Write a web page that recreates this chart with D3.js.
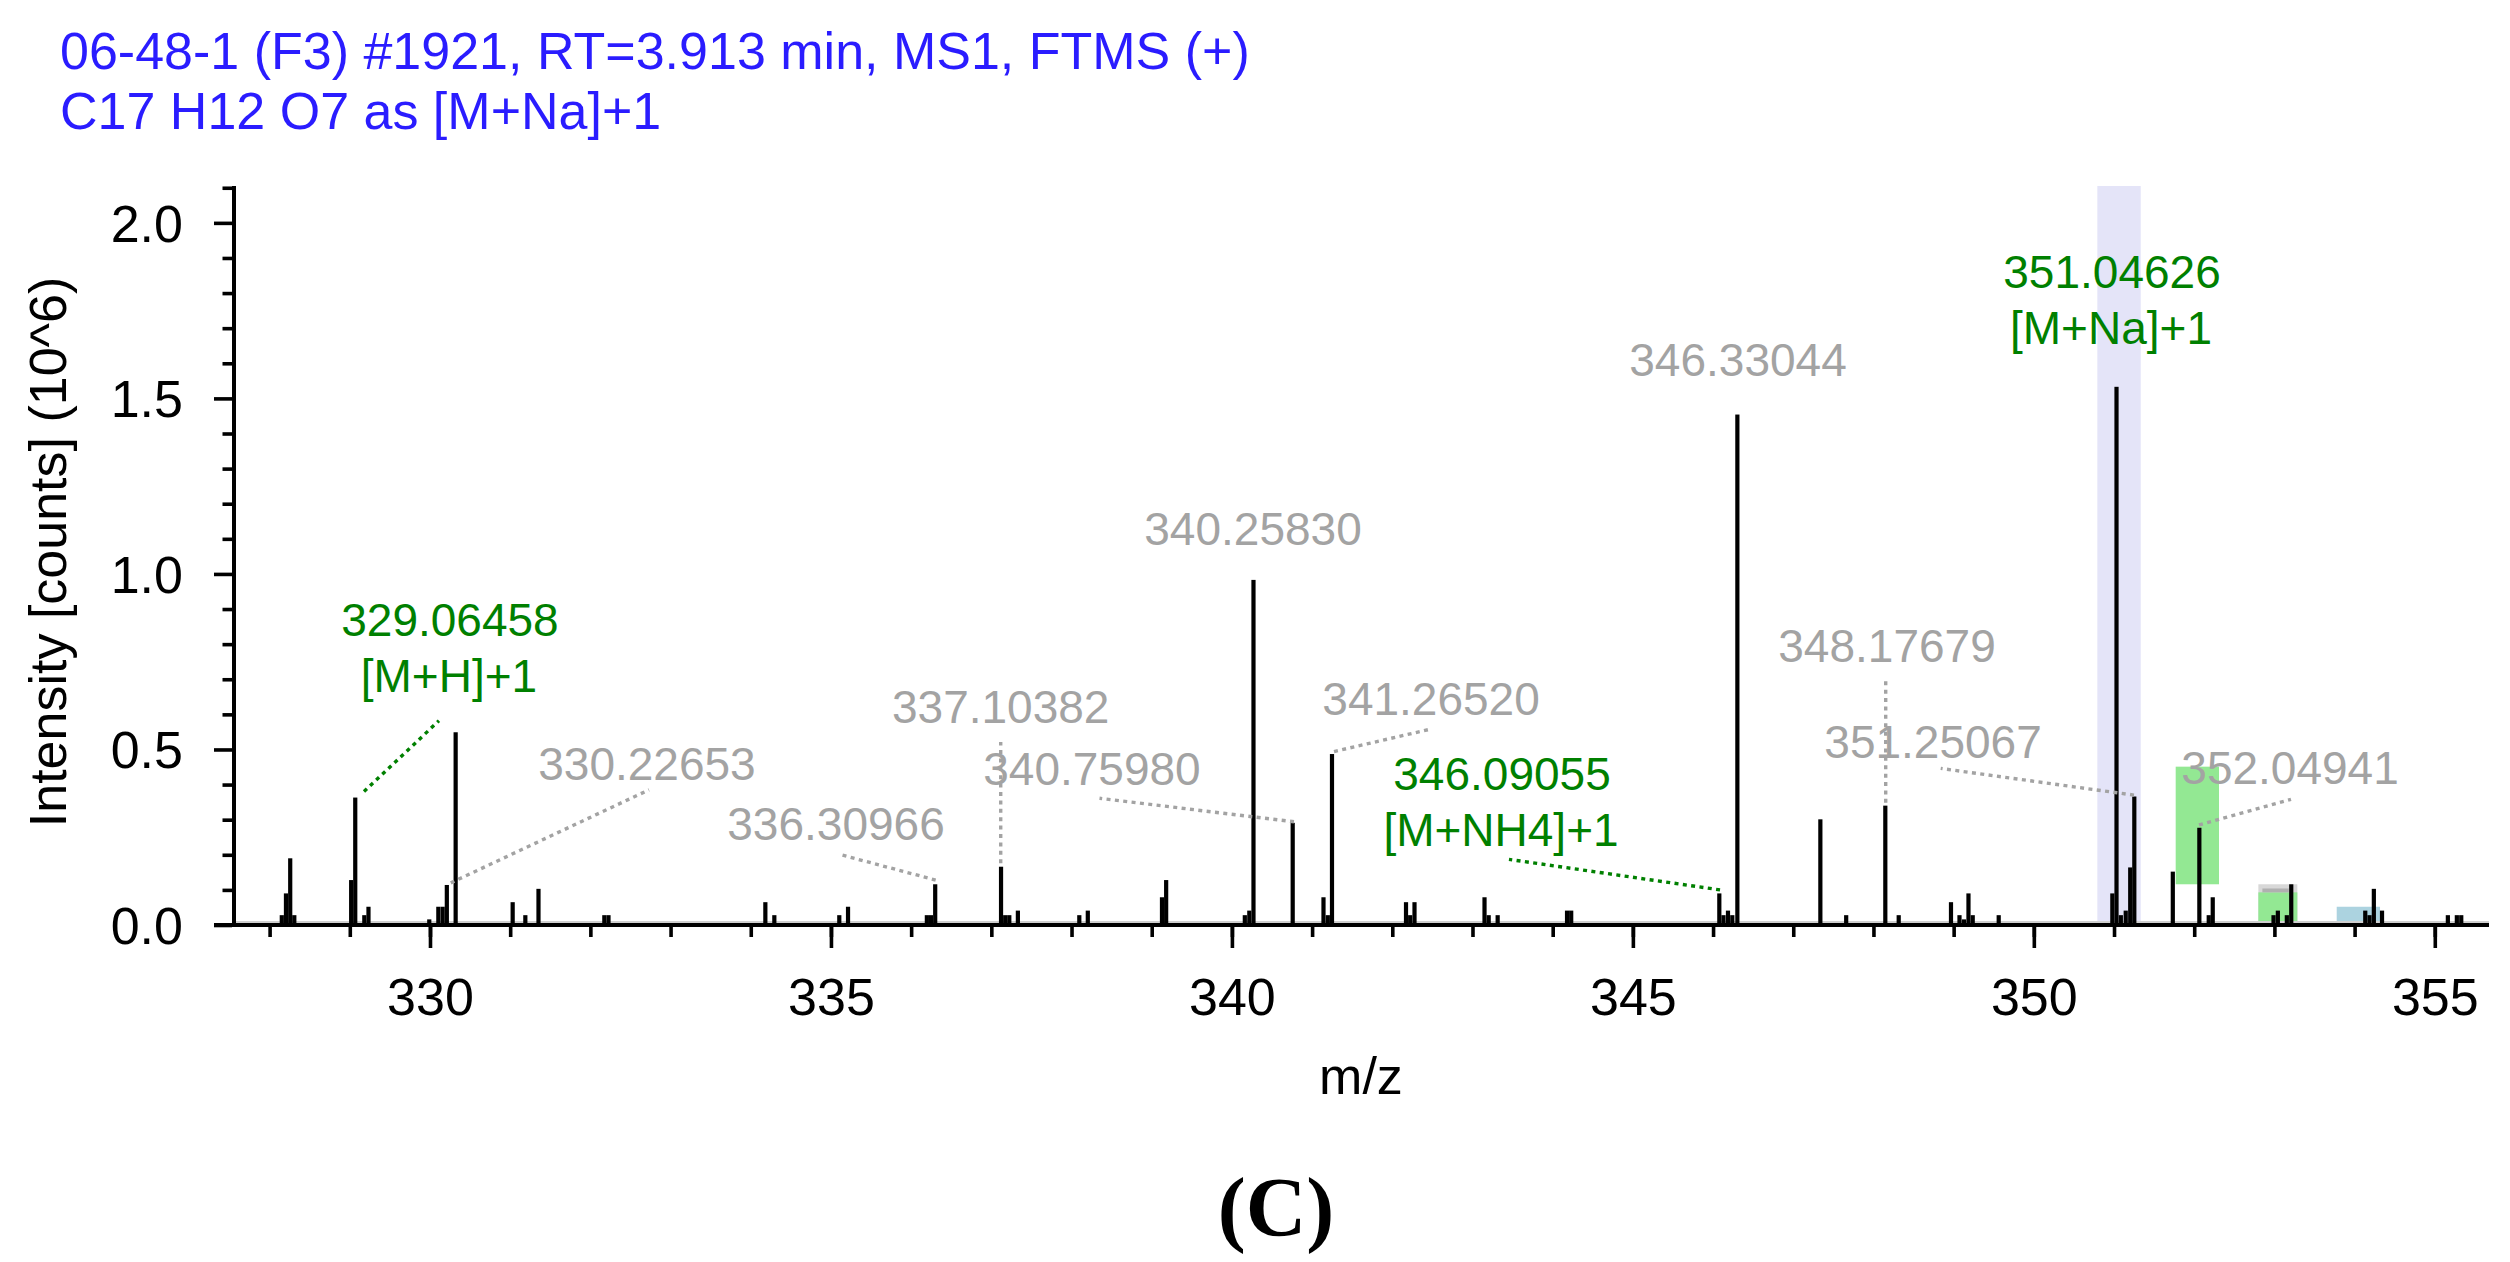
<!DOCTYPE html>
<html><head><meta charset="utf-8">
<script src="https://cdn.jsdelivr.net/npm/d3@7"></script>
<style>html,body{margin:0;padding:0;background:#fff;} svg{display:block;}</style>
</head><body><svg id="c" width="2510" height="1262"></svg>
<script>
// ---------- data ----------
const titleLines = ["06-48-1 (F3) #1921, RT=3.913 min, MS1, FTMS (+)", "C17 H12 O7 as [M+Na]+1"];
const xTitle = "m/z";
const yTitle = "Intensity [counts] (10^6)";
const caption = "(C)";

const xMajorTicks = [330, 335, 340, 345, 350, 355];
const xMinorTicks = [328,329,330,331,332,333,334,335,336,337,338,339,340,341,342,343,344,345,346,347,348,349,350,351,352,353,354,355];
const yMajorTicks = [0, 0.5, 1.0, 1.5, 2.0];
const yMajorLabels = ["0.0", "0.5", "1.0", "1.5", "2.0"];
const yMinorTicks = [0.1,0.2,0.3,0.4,0.6,0.7,0.8,0.9,1.1,1.2,1.3,1.4,1.6,1.7,1.8,1.9,2.1];

// peaks: m/z and intensity (10^6 counts)
const peakMz = [
  328.152, 328.204, 328.257, 328.308,
  329.017, 329.068, 329.181, 329.233,
  329.991, 330.104, 330.158, 330.210, 330.320,
  331.031, 331.189, 331.353, 332.174, 332.226,
  334.182, 334.294, 335.104, 335.213,
  336.196, 336.248, 336.300,
  337.121, 337.173, 337.224, 337.331,
  338.097, 338.203, 339.128, 339.180,
  340.161, 340.217, 340.269, 340.758,
  341.142, 341.196, 341.248,
  342.171, 342.223, 342.277,
  343.150, 343.202, 343.314,
  344.179, 344.231,
  346.078, 346.130, 346.186, 346.240, 346.303,
  347.338, 347.660, 348.148, 348.315,
  348.967, 349.073, 349.129, 349.185, 349.238, 349.562,
  350.979, 351.031, 351.085, 351.146, 351.202, 351.253,
  351.733, 352.064, 352.181, 352.231,
  352.989, 353.043, 353.155, 353.210,
  354.133, 354.186, 354.240, 354.342,
  355.163, 355.275, 355.330
];
const peakIntensity = [
  0.028, 0.090, 0.190, 0.028,
  0.128, 0.363, 0.028, 0.052,
  0.016, 0.052, 0.052, 0.114, 0.549,
  0.065, 0.028, 0.103, 0.028, 0.028,
  0.065, 0.028, 0.028, 0.052,
  0.028, 0.028, 0.116,
  0.166, 0.028, 0.028, 0.041,
  0.028, 0.041, 0.079, 0.128,
  0.028, 0.041, 0.983, 0.291,
  0.079, 0.028, 0.487,
  0.065, 0.028, 0.065,
  0.079, 0.028, 0.028,
  0.041, 0.041,
  0.090, 0.028, 0.041, 0.028, 1.454,
  0.301, 0.028, 0.340, 0.028,
  0.065, 0.028, 0.016, 0.090, 0.028, 0.028,
  0.090, 1.533, 0.028, 0.041, 0.164, 0.366,
  0.152, 0.277, 0.028, 0.079,
  0.028, 0.041, 0.028, 0.116,
  0.041, 0.028, 0.103, 0.041,
  0.028, 0.028, 0.028
];

// highlight boxes [mz0, mz1, i0, i1, kind]
const boxes = [
  [350.792, 351.333, 0, 2.105, "lavender"],
  [351.769, 352.309, 0.116, 0.451, "lightgreen"],
  [352.800, 353.286, 0, 0.116, "lightgray"],
  [352.800, 353.286, 0, 0.093, "lightgreen"],
  [352.850, 353.180, 0.093, 0.104, "darkgray"],
  [353.777, 354.317, 0, 0.052, "lightblue"]
];

// annotations: text, second line, kind, label centre m/z, label baseline intensity, leader [[mz,i],[mz,i]]
const annotations = [
  {text:"329.06458", sub:"[M+H]+1",   kind:"match", lm:330.249, li:0.823, leader:[[329.177,0.380],[330.112,0.582]]},
  {text:"330.22653", sub:null,        kind:"other", lm:332.706, li:0.413, leader:[[330.259,0.120],[332.731,0.385]]},
  {text:"336.30966", sub:null,        kind:"other", lm:335.063, li:0.242, leader:[[336.306,0.128],[335.142,0.199]]},
  {text:"337.10382", sub:null,        kind:"other", lm:337.117, li:0.575, leader:[[337.117,0.176],[337.117,0.521]]},
  {text:"340.75980", sub:null,        kind:"other", lm:338.255, li:0.399, leader:[[340.774,0.294],[338.349,0.361]]},
  {text:"340.25830", sub:null,        kind:"other", lm:340.263, li:1.083, leader:null},
  {text:"341.26520", sub:null,        kind:"other", lm:342.483, li:0.598, leader:[[341.273,0.494],[342.479,0.558]]},
  {text:"346.09055", sub:"[M+NH4]+1", kind:"match", lm:343.368, li:0.385, leader:[[346.087,0.100],[343.455,0.187]]},
  {text:"346.33044", sub:null,        kind:"other", lm:346.311, li:1.564, leader:null},
  {text:"348.17679", sub:null,        kind:"other", lm:348.169, li:0.749, leader:[[348.153,0.348],[348.153,0.698]]},
  {text:"351.25067", sub:null,        kind:"other", lm:348.743, li:0.476, leader:[[351.249,0.370],[348.839,0.446]]},
  {text:"351.04626", sub:"[M+Na]+1",  kind:"match", lm:350.975, li:1.815, leader:null},
  {text:"352.04941", sub:null,        kind:"other", lm:353.195, li:0.402, leader:[[352.060,0.285],[353.207,0.358]]}
];

// ---------- styles ----------
const SANS = "'Liberation Sans', Arial, Helvetica, sans-serif";
const SERIF = "'Liberation Serif', 'Times New Roman', serif";
const colors = {
  title: "#2a1cff", match: "#008000", other: "#a3a3a3",
  lavender: "#e4e4f8", lightgreen: "#93e893", lightgray: "#d8d8d8", darkgray: "#b0b0b0", lightblue: "#acd3e0"
};

// ---------- drawing ----------
const svg = d3.select("#c");
const x = d3.scaleLinear().domain([327.556, 355.676]).range([234, 2489]);
const y = d3.scaleLinear().domain([0, 2.105]).range([925, 186]);

// title
svg.append("g").selectAll("text").data(titleLines).join("text")
  .attr("x", 60).attr("y", (d, i) => 69 + i * 60)
  .attr("font-family", SANS).attr("font-size", 52).attr("fill", colors.title)
  .text(d => d);

// boxes
svg.append("g").selectAll("rect").data(boxes).join("rect")
  .attr("x", d => x(d[0])).attr("width", d => x(d[1]) - x(d[0]))
  .attr("y", d => y(d[3])).attr("height", d => y(d[2]) - y(d[3]))
  .attr("fill", d => colors[d[4]]);

// baseline shade
svg.append("line").attr("x1", 236).attr("x2", 2489).attr("y1", 922).attr("y2", 922)
  .attr("stroke", "#cfcfcf").attr("stroke-width", 2);

// peaks
const peaks = peakMz.map((m, i) => ({m, v: peakIntensity[i]}));
svg.append("g").selectAll("rect").data(peaks).join("rect")
  .attr("x", d => x(d.m) - 2.1).attr("width", 4.2)
  .attr("y", d => y(d.v)).attr("height", d => y(0) - y(d.v))
  .attr("fill", "#000");

// axes
function styleAxis(g) {
  g.select(".domain").remove();
  g.selectAll(".tick line").attr("stroke", "#000").attr("stroke-width", 3.6);
  g.selectAll(".tick text").attr("fill", "#000").attr("font-family", SANS).attr("font-size", 52);
  g.attr("font-family", SANS).attr("font-size", 52);
}
svg.append("g").attr("transform", "translate(232,0)")
  .call(d3.axisLeft(y).tickValues(yMinorTicks).tickSize(9.5).tickFormat(""))
  .call(styleAxis);
svg.append("g").attr("transform", "translate(232,0)")
  .call(d3.axisLeft(y).tickValues(yMajorTicks).tickSize(18).tickPadding(31)
        .tickFormat((d, i) => yMajorLabels[i]))
  .call(styleAxis)
  .selectAll(".tick text").attr("dy", "0.35em");

svg.append("g").attr("transform", "translate(0,927)")
  .call(d3.axisBottom(x).tickValues(xMinorTicks).tickSize(10).tickFormat(""))
  .call(styleAxis);
svg.append("g").attr("transform", "translate(0,927)")
  .call(d3.axisBottom(x).tickValues(xMajorTicks).tickSize(21).tickPadding(30).tickFormat(d3.format("d")))
  .call(styleAxis);

// axis lines
svg.append("rect").attr("x", 232).attr("y", 186).attr("width", 4).attr("height", 741).attr("fill", "#000");
svg.append("rect").attr("x", 214).attr("y", 923).attr("width", 2275).attr("height", 4).attr("fill", "#000");

// axis titles
svg.append("text").attr("x", 1361).attr("y", 1094).attr("text-anchor", "middle")
  .attr("font-family", SANS).attr("font-size", 52).attr("fill", "#000").text(xTitle);
svg.append("text").attr("transform", "translate(66,552) rotate(-90)").attr("text-anchor", "middle")
  .attr("font-family", SANS).attr("font-size", 52).attr("fill", "#000").text(yTitle);

// leaders
svg.append("g").selectAll("line").data(annotations.filter(a => a.leader)).join("line")
  .attr("x1", a => x(a.leader[0][0])).attr("y1", a => y(a.leader[0][1]))
  .attr("x2", a => x(a.leader[1][0])).attr("y2", a => y(a.leader[1][1]))
  .attr("stroke", a => colors[a.kind]).attr("stroke-width", 3.4)
  .attr("stroke-dasharray", "4 4.4");

// labels
const lab = svg.append("g").attr("font-family", SANS).attr("font-size", 46).attr("text-anchor", "middle");
lab.selectAll("text.l1").data(annotations).join("text").attr("class", "l1")
  .attr("x", a => x(a.lm)).attr("y", a => y(a.li)).attr("fill", a => colors[a.kind]).text(a => a.text);
lab.selectAll("text.l2").data(annotations.filter(a => a.sub)).join("text").attr("class", "l2")
  .attr("x", a => x(a.lm) - 1).attr("y", a => y(a.li) + 56).attr("fill", a => colors[a.kind]).text(a => a.sub);

// caption
svg.append("text").attr("x", 1276).attr("y", 1236).attr("text-anchor", "middle")
  .attr("font-family", SERIF).attr("font-weight", "bold").attr("font-size", 84).attr("fill", "#000").text(caption);
</script></body></html>
